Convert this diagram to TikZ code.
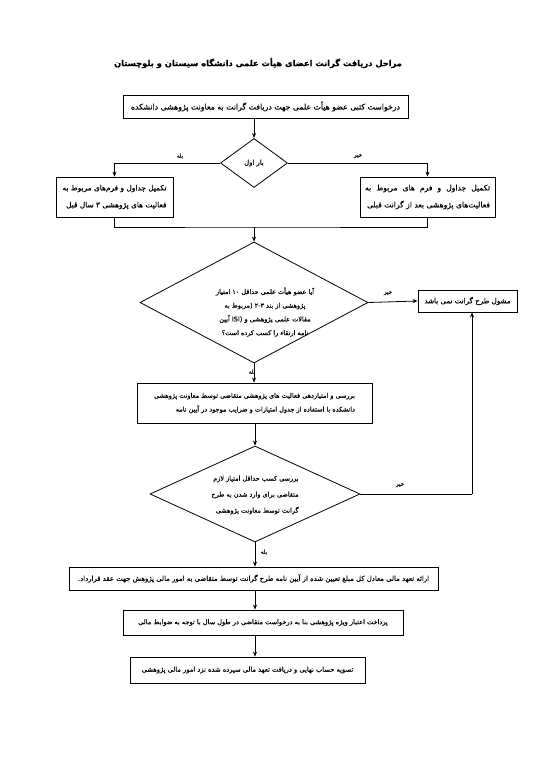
\documentclass[tikz,border=0pt]{standalone}
\usepackage{fontspec}
\usetikzlibrary{shapes.geometric,arrows.meta}
\TeXXeTstate=1
\newfontfamily\fa[Script=Arabic,FakeBold=0.4]{DejaVu Sans}
\newcommand{\rl}[1]{{\fa\beginR #1\endR}}
\newcommand{\fs}[2]{\fontsize{#1}{#2}\selectfont}
\tikzset{
  box/.style={draw, line width=0.8pt, rectangle, inner sep=0pt},
  dia/.style={draw, line width=0.8pt, diamond, inner sep=0pt},
  dtext/.style={inner sep=0pt},
  arr/.style={line width=0.8pt, -{Stealth[length=5pt,width=4pt]}},
  ln/.style={line width=0.8pt},
  lbl/.style={font=\fs{5.5}{7}, inner sep=0pt}
}
\begin{document}
\begin{tikzpicture}[x=1pt,y=-1pt]
\useasboundingbox (0,0) rectangle (542,768);
\fill[white] (0,0) rectangle (542,768);
\node[font=\bfseries\fs{8.3}{10}] (title) at (258,63) {\rl{مراحل دریافت گرانت اعضای هیأت علمی دانشگاه سیستان و بلوچستان}};
\node[box, font=\fs{7.8}{9}, minimum width=285pt, minimum height=23pt] (b1) at (265.5,106.5) {\rl{درخواست کتبی عضو هیأت علمی جهت دریافت گرانت به معاونت پژوهشی دانشکده}};
\node[dia, font=\fs{6.8}{9}, minimum width=67pt, minimum height=49pt] (d1) at (254,163) {\rl{بار اول}};
\node[box, font=\fs{7.4}{17}, minimum width=117pt, minimum height=40pt, align=right] (L) at (114.5,197) {\rl{تکمیل جداول و فرم‌های مربوط به}\\\rl{فعالیت های پژوهشی ۳ سال قبل}};
\node[box, font=\fs{7.6}{17}, minimum width=135pt, minimum height=40pt, align=right] (R) at (427.5,197) {\makebox[125pt][s]{\rl{تکمیل جداول و فرم های مربوط به}}\\\rl{فعالیت‌های پژوهشی بعد از گرانت قبلی}};
\coordinate (m1) at (254,227);
\node[dia, minimum width=228pt, minimum height=121pt] (d2) at (254,302.5) {};
\node[dtext, font=\fs{6.5}{13.7}, align=center] (d2t) at (265,312) {\rl{آیا عضو هیأت علمی حداقل ۱۰ امتیاز}\\\rl{پژوهشی از بند ۲-۳ (مربوط به}\\\rl{مقالات علمی پژوهشی و ISI) آیین}\\\rl{نامه ارتقاء را کسب کرده است؟}};
\node[box, font=\fs{7.1}{9}, minimum width=99pt, minimum height=22pt] (no) at (467.5,301) {\rl{مشول طرح گرانت نمی باشد}};
\node[box, font=\fs{6.5}{13.8}, minimum width=235pt, minimum height=40pt, align=right] (b3) at (254.5,403) {\rl{بررسی و امتیازدهی فعالیت های پژوهشی متقاضی توسط معاونت پژوهشی}\\\rl{دانشکده با استفاده از جدول امتیازات و ضرایب موجود در آیین نامه}};
\node[dia, minimum width=210pt, minimum height=96pt] (d3) at (255,494) {};
\node[dtext, font=\fs{6.5}{16}, align=right] (d3t) at (255,495) {\rl{بررسی کسب حداقل امتیاز لازم}\\\rl{متقاضی برای وارد شدن به طرح}\\\rl{گرانت توسط معاونت پژوهشی}};
\coordinate (c3) at (472,494);
\node[box, font=\fs{6.9}{9}, minimum width=369pt, minimum height=23pt] (b4) at (253.5,578.5) {\rl{ارائه تعهد مالی معادل کل مبلغ تعیین شده از آیین نامه طرح گرانت توسط متقاضی به امور مالی پژوهش جهت عقد قرارداد.}};
\node[box, font=\fs{6.6}{9}, minimum width=280pt, minimum height=25pt] (b5) at (263,622.5) {\rl{پرداخت اعتبار ویژه پژوهشی بنا به درخواست متقاضی در طول سال با توجه به ضوابط مالی}};
\node[box, font=\fs{6.7}{9}, minimum width=235pt, minimum height=26pt] (b6) at (247.5,670) {\rl{تسویه حساب نهایی و دریافت تعهد مالی سپرده شده نزد امور مالی پژوهشی}};
% connectors
\draw[arr] (b1.south -| d1.north) -- (d1.north);
\draw[arr] (d1.west) -| (L.north);
\draw[arr] (d1.east) -| (R.north);
\draw[ln] (L.south) |- (m1) -| (R.south);
\draw[arr] (m1) -- (d2.north);
\draw[arr] (d2.east) -- (no.west);
\draw[arr] (d2.south) -- (b3.north -| d2.south);
\draw[arr] (b3.south -| d3.north) -- (d3.north);
\draw[ln] (d3.east) -- (c3);
\draw[arr] (c3) -- (no.south -| c3);
\draw[arr] (d3.south) -- (b4.north -| d3.south);
\draw[arr] (b4.south -| d3.south) -- (b5.north -| d3.south);
\draw[arr] (b5.south -| d3.south) -- (b6.north -| d3.south);
% labels
\node[lbl] (l1) at (180,156) {\rl{بله}};
\node[lbl] (l2) at (358,156) {\rl{خیر}};
\node[lbl] (l3) at (388,293) {\rl{خیر}};
\node[lbl] (l4) at (252,372) {\rl{بله}};
\node[lbl] (l5) at (400,485) {\rl{خیر}};
\node[lbl] (l6) at (264,552) {\rl{بله}};
\end{tikzpicture}
\end{document}
